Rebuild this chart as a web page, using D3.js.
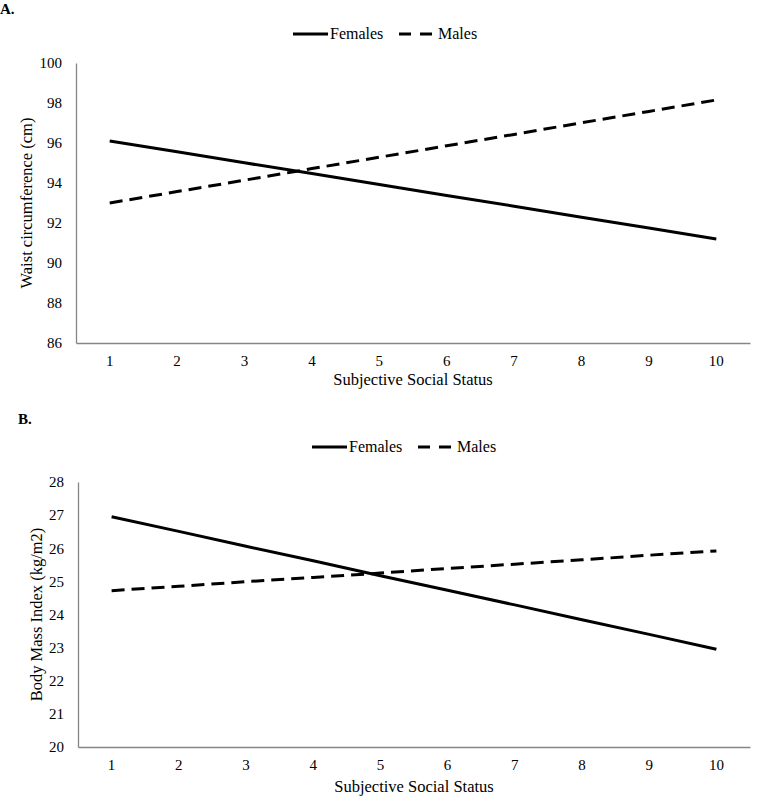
<!DOCTYPE html>
<html><head><meta charset="utf-8">
<script src="https://cdn.jsdelivr.net/npm/d3@7"></script>
<style>body{margin:0;background:#fff;}</style>
</head><body>
<svg id="c" width="768" height="796"></svg>
<script>
const categories = ["1","2","3","4","5","6","7","8","9","10"];
const waistFemales = [96.1, 95.56, 95.01, 94.47, 93.92, 93.38, 92.84, 92.29, 91.75, 91.2];
const waistMales = [93.0, 93.57, 94.14, 94.72, 95.29, 95.86, 96.43, 97.01, 97.58, 98.15];
const bmiFemales = [26.95, 26.51, 26.06, 25.62, 25.17, 24.73, 24.29, 23.84, 23.40, 22.95];
const bmiMales = [24.72, 24.85, 24.99, 25.12, 25.25, 25.39, 25.52, 25.65, 25.79, 25.92];
const waistTicks = [86, 88, 90, 92, 94, 96, 98, 100];
const bmiTicks = [20, 21, 22, 23, 24, 25, 26, 27, 28];
const seriesNames = ["Females", "Males"];

const FONT = '"Liberation Serif", "Times New Roman", serif';
const svg = d3.select("#c");

function txt(sel) { return sel.style("font-family", FONT).style("fill", "#000"); }

function panel(cfg) {
  const g = svg.append("g");
  const x = d3.scaleBand().domain(categories).range([cfg.left, cfg.right]);
  const y = d3.scaleLinear().domain([cfg.ticks[0], cfg.ticks[cfg.ticks.length-1]]).range([cfg.bottom, cfg.top]);

  txt(g.append("text").attr("x", cfg.labelX).attr("y", cfg.labelY).style("font-weight", "bold")
    .style("font-size", "15px").text(cfg.label));

  const ya = g.append("g").attr("transform", `translate(${cfg.left},0)`)
    .call(d3.axisLeft(y).tickValues(cfg.ticks).tickSize(0).tickPadding(14));
  ya.select(".domain").attr("stroke", "#868686").attr("stroke-width", 1.3);
  txt(ya.selectAll("text")).style("font-size", "15px");

  const xa = g.append("g").attr("transform", `translate(0,${cfg.bottom})`)
    .call(d3.axisBottom(x).tickSize(0).tickPadding(12));
  xa.select(".domain").attr("stroke", "#868686").attr("stroke-width", 1.3);
  txt(xa.selectAll("text")).style("font-size", "15px");

  txt(g.append("text").attr("x", (cfg.left + cfg.right)/2).attr("y", cfg.bottom + cfg.xtitleDy)
    .attr("text-anchor", "middle").style("font-size", "16.5px").text("Subjective Social Status"));
  txt(g.append("text").attr("transform", `translate(${cfg.ytitleX},${(cfg.top+cfg.bottom)/2}) rotate(-90)`)
    .attr("text-anchor", "middle").style("font-size", "16.5px").text(cfg.ytitle));

  const line = d3.line().x((d,i) => x(categories[i]) + x.bandwidth()/2).y(d => y(d));
  g.append("path").datum(cfg.fem).attr("d", line).attr("fill", "none").attr("stroke", "#000").attr("stroke-width", 3);
  g.append("path").datum(cfg.mal).attr("d", line).attr("fill", "none").attr("stroke", "#000").attr("stroke-width", 3)
    .attr("stroke-dasharray", "13,7");

  const lg = g.append("g").attr("transform", `translate(${cfg.legX},${cfg.legY})`);
  lg.append("line").attr("x1", 0).attr("x2", 35).attr("y1", 0).attr("y2", 0).attr("stroke", "#000").attr("stroke-width", 3);
  txt(lg.append("text").attr("x", 37).attr("y", 5).style("font-size", "16px").text(seriesNames[0]));
  lg.append("line").attr("x1", 106).attr("x2", 139).attr("y1", 0).attr("y2", 0).attr("stroke", "#000").attr("stroke-width", 3)
    .attr("stroke-dasharray", "12,9");
  txt(lg.append("text").attr("x", 145).attr("y", 5).style("font-size", "16px").text(seriesNames[1]));
}

panel({label: "A.", labelX: 0, labelY: 14, left: 76, right: 750, top: 63, bottom: 343,
  ticks: waistTicks, fem: waistFemales, mal: waistMales, ytitle: "Waist circumference (cm)", ytitleX: 32,
  legX: 293, legY: 34, xtitleDy: 42});
panel({label: "B.", labelX: 18, labelY: 424, left: 78, right: 750, top: 482, bottom: 747,
  ticks: bmiTicks, fem: bmiFemales, mal: bmiMales, ytitle: "Body Mass Index (kg/m2)", ytitleX: 42,
  legX: 312, legY: 447, xtitleDy: 45});
</script>
</body></html>
